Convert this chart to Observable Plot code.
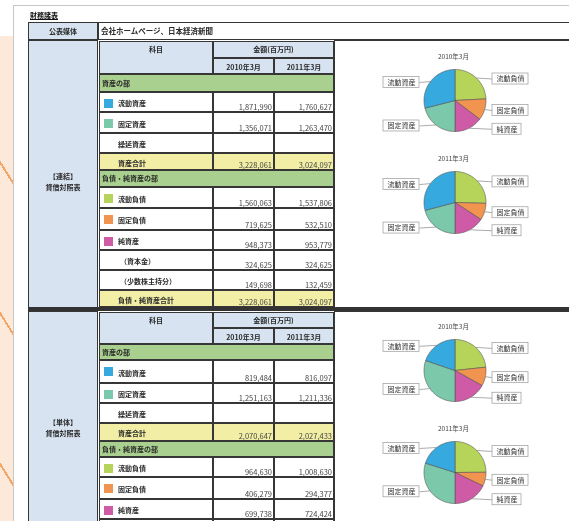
<!DOCTYPE html>
<html><head><meta charset="utf-8">
<script src="https://cdn.jsdelivr.net/npm/d3@7"></script>
<script src="https://cdn.jsdelivr.net/npm/@observablehq/plot@0.6"></script>
<style>
html,body{margin:0;padding:0;width:569px;height:521px;overflow:hidden;background:#fff;font-family:"Noto Sans CJK JP","Noto Sans",sans-serif;}
#wrap{position:absolute;left:0;top:0;width:569px;height:521px;overflow:hidden;filter:blur(0.45px);}
.c{position:absolute;box-sizing:border-box;display:flex;line-height:1;white-space:nowrap;color:#222;font-size:7px;}
.b{font-weight:bold;color:#2a2a2a;}
</style></head>
<body><div id="wrap"></div>
<script>
// ---- data ----
const docTitle = "財務諸表";
const mediaLabel = "公表媒体";
const mediaText = "会社ホームページ、日本経済新聞";
const periods = ["2010年3月", "2011年3月"];
const headerItem = "科目";
const headerAmount = "金額(百万円)";
const sectionNames = [["【連結】", "貸借対照表"], ["【単体】", "貸借対照表"]];
const groupNames = ["資産の部", "負債・純資産の部"];
const assetNames = ["流動資産", "固定資産", "繰延資産"];
const assetTotalName = "資産合計";
const liabNames = ["流動負債", "固定負債", "純資産"];
const subNames = ["（資本金）", "（少数株主持分）"];
const liabTotalName = "負債・純資産合計";
// 連結 (consolidated)
const conAssets2010 = [1871990, 1356071];
const conAssets2011 = [1760627, 1263470];
const conLiab2010 = [1560063, 719625, 948373];
const conLiab2011 = [1537806, 532510, 953779];
const conSub2010 = [324625, 149698];
const conSub2011 = [324625, 132459];
const conTotal = [3228061, 3024097];
// 単体 (non-consolidated)
const soloAssets2010 = [819484, 1251163];
const soloAssets2011 = [816097, 1211336];
const soloLiab2010 = [964630, 406279, 699738];
const soloLiab2011 = [1008630, 294377, 724424];
const soloTotal = [2070647, 2027433];
// pie slices (clockwise from top)
const pieNames = ["流動負債", "固定負債", "純資産", "固定資産", "流動資産"];
const pieColors = ["#b6d45a", "#f0944f", "#cf5ba6", "#7cc8aa", "#36a9de"];
const swatch = {"流動資産": "#36a9de", "固定資産": "#7cc8aa", "流動負債": "#b6d45a", "固定負債": "#f0944f", "純資産": "#cf5ba6"};

// ---- layout helpers ----
const wrap = document.getElementById("wrap");
const fmt = d3.format(",");
const HDR = "#d7e3f1", GREEN = "#a9d08e", YELLOW = "#f2eea5", LINE = "#363636";
function el(x1, y1, x2, y2, css, text, cls) {
  const d = document.createElement("div");
  d.className = "c" + (cls ? " " + cls : "");
  d.style.cssText += `left:${x1}px;top:${y1}px;width:${x2 - x1}px;height:${y2 - y1}px;` + (css || "");
  if (text != null) { const s = document.createElement("span"); s.textContent = text; d.appendChild(s); }
  wrap.appendChild(d);
  return d;
}
function cell(x1, y1, x2, y2, bg, css, text, cls) {
  return el(x1, y1, x2, y2, `border:1px solid ${LINE};background:${bg};` + (css || ""), text, cls);
}

// background strip + document
el(0, 36, 13, 530, "background:repeating-linear-gradient(58deg, rgba(0,0,0,0) 0 34px, #f2a668 34px 36px, rgba(0,0,0,0) 36px 80px),#fde9da;");
el(13, 5, 580, 540, "border:1px solid #c8c8c8;background:#fff;");
el(30, 12, 70, 21, "font-size:7px;color:#111;text-decoration:underline;", docTitle, "b");

// top row
cell(28, 22, 98, 40, HDR, "justify-content:center;align-items:center;", mediaLabel, "b");
cell(98, 22, 580, 40, "#fff", "align-items:center;padding-left:2px;font-size:7.5px;", mediaText, "b");

function section(top, bottom, names, pad, hTop, hMid, hBot, bounds, rows) {
  const lab = cell(28, top, 98, bottom, HDR, `flex-direction:column;align-items:center;justify-content:center;padding-top:${pad}px;`, null, "b");
  names.forEach(n => { const s = document.createElement("div"); s.textContent = n; s.style.margin = "2px 0"; lab.appendChild(s); });
  cell(334, top, 580, bottom, "#fff");
  const X = [99, 213, 274, 334];
  cell(X[0], hTop, X[1], hBot, HDR, "justify-content:center;align-items:flex-start;padding-top:4px;", headerItem, "b");
  cell(X[1], hTop, X[3], hMid, HDR, "justify-content:center;align-items:center;", headerAmount, "b");
  cell(X[1], hMid, X[2], hBot, HDR, "justify-content:center;align-items:flex-end;padding-bottom:2px;", periods[0], "b");
  cell(X[2], hMid, X[3], hBot, HDR, "justify-content:center;align-items:flex-end;padding-bottom:2px;", periods[1], "b");
  rows.forEach((r, i) => {
    const y1 = bounds[i], y2 = bounds[i + 1];
    if (r.kind === "group") { cell(X[0], y1, X[3], y2, GREEN, "align-items:center;padding-left:2px;", r.label, "b"); return; }
    const bg = r.kind === "total" ? YELLOW : "#fff";
    const lc = cell(X[0], y1, X[1], y2, bg, `align-items:center;padding-top:3px;padding-left:${r.indent ? 20 : 18}px;`, r.label, "b");
    if (r.label && swatch[r.label]) {
      const s = document.createElement("div");
      s.style.cssText = `position:absolute;left:4px;top:6px;width:9px;height:9px;background:${swatch[r.label]};`;
      lc.appendChild(s);
    }
    [0, 1].forEach(j => {
      const v = r.values ? r.values[j] : null;
      cell(X[1 + j], y1, X[2 + j], y2, bg, "justify-content:flex-end;align-items:flex-end;padding:0 1px 1px 0;font-size:7.5px;color:#444;", v == null ? "" : fmt(v));
    });
  });
}

section(40, 309, sectionNames[0], 14, 41, 58, 74,
  [74, 92, 112, 133, 153, 170, 187, 208, 230, 250, 270, 290, 307],
  [
    {kind: "group", label: groupNames[0]},
    {label: assetNames[0], values: [conAssets2010[0], conAssets2011[0]]},
    {label: assetNames[1], values: [conAssets2010[1], conAssets2011[1]]},
    {label: assetNames[2]},
    {kind: "total", label: assetTotalName, values: conTotal},
    {kind: "group", label: groupNames[1]},
    {label: liabNames[0], values: [conLiab2010[0], conLiab2011[0]]},
    {label: liabNames[1], values: [conLiab2010[1], conLiab2011[1]]},
    {label: liabNames[2], values: [conLiab2010[2], conLiab2011[2]]},
    {label: subNames[0], indent: true, values: [conSub2010[0], conSub2011[0]]},
    {label: subNames[1], indent: true, values: [conSub2010[1], conSub2011[1]]},
    {kind: "total", label: liabTotalName, values: conTotal}
  ]);
el(28, 307, 580, 311, "background:#333;");
section(311, 540, sectionNames[1], 4, 312, 328, 344,
  [344, 360, 383, 403, 423, 441, 457, 477, 499, 519, 540],
  [
    {kind: "group", label: groupNames[0]},
    {label: assetNames[0], values: [soloAssets2010[0], soloAssets2011[0]]},
    {label: assetNames[1], values: [soloAssets2010[1], soloAssets2011[1]]},
    {label: assetNames[2]},
    {kind: "total", label: assetTotalName, values: soloTotal},
    {kind: "group", label: groupNames[1]},
    {label: liabNames[0], values: [soloLiab2010[0], soloLiab2011[0]]},
    {label: liabNames[1], values: [soloLiab2010[1], soloLiab2011[1]]},
    {label: liabNames[2], values: [soloLiab2010[2], soloLiab2011[2]]},
    {label: ""}
  ]);

// ---- pies with Plot ----
const R = 31, PW = 233, PH = 103, CX = 118.5, CY = 52;
function drawPie(assets, liab, title, cy) {
  const vals = [liab[0], liab[1], liab[2], assets[1], assets[0]];
  const items = vals.map((v, i) => ({name: pieNames[i], value: v, color: pieColors[i]}));
  const arcs = d3.pie().sort(null).value(d => d.value)(items);
  const pts = [];
  arcs.forEach((a, i) => {
    const n = Math.max(2, Math.ceil((a.endAngle - a.startAngle) / 0.03));
    pts.push({x: 0, y: 0, k: i, color: a.data.color});
    for (let j = 0; j <= n; j++) {
      const t = a.startAngle + (a.endAngle - a.startAngle) * j / n;
      pts.push({x: Math.sin(t), y: Math.cos(t), k: i, color: a.data.color});
    }
    pts.push({x: 0, y: 0, k: i, color: a.data.color});
  });
  const labels = arcs.map(a => {
    const m = (a.startAngle + a.endAngle) / 2;
    const ax = Math.sin(m), ay = Math.cos(m);
    const left = ax < 0;
    const w = (a.data.name.length * 7 + 8) / R, h = 11 / R;
    const ly = ay - 1 / R;
    const bx1 = left ? -1.145 - w : 1.21, bx2 = bx1 + w;
    return {name: a.data.name, ax, ay, lx: left ? bx2 : bx1, ly, bx1, bx2, by1: ly - h / 2, by2: ly + h / 2, tx: (bx1 + bx2) / 2};
  });
  const chart = Plot.plot({
    width: PW, height: PH, margin: 0,
    x: {domain: [-CX / R, (PW - CX) / R], axis: null},
    y: {domain: [-(PH - CY) / R, CY / R], axis: null},
    color: {type: "identity"},
    style: {background: "transparent", fontFamily: "'Noto Sans CJK JP', sans-serif", overflow: "visible"},
    marks: [
      Plot.line(pts, {x: "x", y: "y", z: "k", fill: "color", stroke: "#555", strokeWidth: 0.6}),
      Plot.link(labels, {x1: "ax", y1: "ay", x2: "lx", y2: "ly", stroke: "#888", strokeWidth: 0.7}),
      Plot.rect(labels, {x1: "bx1", x2: "bx2", y1: "by1", y2: "by2", fill: "#fff", stroke: "#999", strokeWidth: 0.7}),
      Plot.text(labels, {x: "tx", y: "ly", text: "name", fontSize: 7, fill: "#333"}),
      Plot.text([title], {x: () => -0.05, y: () => 1.42, text: d => d, fontSize: 6.5, fill: "#444"})
    ]
  });
  chart.style.position = "absolute";
  chart.style.left = "336px";
  chart.style.top = (cy - CY) + "px";
  wrap.appendChild(chart);
}
drawPie(conAssets2010, conLiab2010, periods[0], 100);
drawPie(conAssets2011, conLiab2011, periods[1], 201.5);
drawPie(soloAssets2010, soloLiab2010, periods[0], 369.5);
drawPie(soloAssets2011, soloLiab2011, periods[1], 472);
</script>
</body></html>
